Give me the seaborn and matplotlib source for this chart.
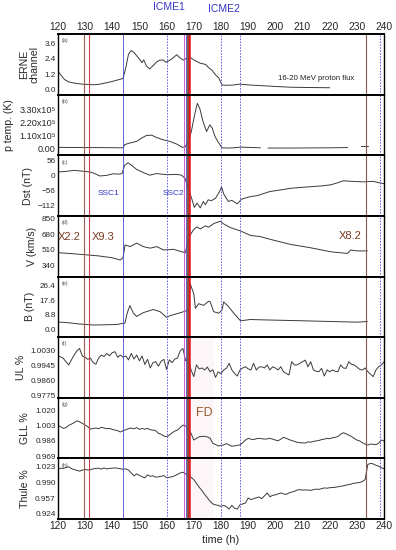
import numpy as np
import pandas as pd
import seaborn as sns
import matplotlib.pyplot as plt
import matplotlib.transforms as mtransforms

# ---- data ----
# (a) ERNE 16-20 MeV proton flux channel
erne_hour = [120, 121, 122.5, 124, 126, 129, 133, 135, 138, 140,
             143, 144, 145, 146, 147, 148, 149.5, 151, 151.6, 152.6,
             153.8, 155, 156.5, 157.5, 158.7, 159.7, 161, 162.4, 163.7, 165,
             166.1, 167.4, 168.6, 170, 172.3, 174.3, 175.5, 176.7, 177.9, 179.2,
             180.4, 182, 184.5, 187, 190, 193.4, 200, 205.6, 212, 220]
erne_val = [1.43, 1.16, 0.77, 0.6, 0.5, 0.42, 0.37, 0.4, 0.53, 0.63,
            0.8, 0.86, 1.7, 2.75, 3.02, 2.88, 2.49, 2.09, 2.3, 1.83,
            1.6, 1.85, 2.17, 2.28, 2.3, 2.12, 2.25, 2.45, 2.7, 2.45,
            2.28, 2.43, 2.5, 2.3, 2.05, 1.95, 1.69, 1.5, 1.16, 0.9,
            0.35, 0.33, 0.35, 0.42, 0.36, 0.32, 0.24, 0.18, 0.16, 0.14]

# (b) proton temperature, units of 1e5 K, three pieces (gaps in the data)
ptemp_hour1 = [120, 125, 130, 135, 140, 144, 144.6, 146, 149, 150.8,
               152.6, 154.5, 156.3, 158.7, 161.2, 163.7, 165.9, 166.8, 168, 169.1,
               170.3, 171.3, 172.2, 173.4, 174.7, 175.9, 176.8, 177.8, 178.8, 180.4,
               182.3, 184.7, 187.2, 190.8, 194.5]
ptemp_val1 = [0.06, 0.05, 0.04, 0.04, 0.03, 0.02, 0.29, 0.4, 0.57, 0.85,
              1.07, 1.1, 0.9, 0.71, 0.57, 0.34, 0.06, 0.1, 0.57, 1.41,
              2.83, 3.81, 3.38, 2.26, 1.41, 1.98, 1.69, 0.99, 0.57, 0.02,
              0.0, 0.02, 0.08, 0.05, 0.02]
ptemp_hour2 = [197.3, 205, 212, 220, 226.6]
ptemp_val2 = [0.0, 0.0, 0.01, 0.02, 0.04]
ptemp_hour3 = [231.5, 234]
ptemp_val3 = [0.2, 0.2]

# (c) Dst index (nT)
dst_hour = [120, 123, 126, 129, 131.8, 133.6, 135.4, 137.9, 140.3, 142.8,
            143.6, 144.6, 145.8, 147.1, 148.9, 151.4, 153.8, 156.3, 158.7, 161.2,
            163.7, 165.5, 166.8, 168, 169.2, 170.2, 171.2, 172.4, 173.5, 174.3,
            175.3, 176.5, 178, 179.5, 180.2, 181, 182.7, 184, 186, 187.5,
            189, 190.8, 193.4, 198, 202, 205.6, 209, 213, 217, 220.4,
            223, 225, 228, 232.5, 236, 238, 240]
dst_val = [12, 14, 18, 15, 12, 6, -3, -1, 5, 4,
           6, 37, 46, 37, 22, 10, 0, 6, 3, 2,
           3, 0, -12, -49, -86, -120, -104, -122, -98, -110,
           -92, -95, -86, -61, -43, -70, -98, -94, -107, -90,
           -85, -80, -76, -61, -55, -49, -46, -43, -40, -36,
           -28, -21, -23, -25, -23, -28, -32]

# (d) solar wind speed (km/s)
v_hour = [120, 125, 130, 135, 140, 143, 144, 144.7, 146.6, 149,
          151.4, 154, 156.4, 158.9, 162.6, 165, 166.9, 168, 169, 170,
          171.2, 172.4, 174.3, 175.5, 177.4, 179.8, 181, 183.5, 187.2, 190.8,
          194.5, 198.2, 205.6, 213, 220.4, 226.5, 227.7, 230, 233.9]
v_val = [481, 470, 458, 445, 425, 400, 428, 565, 547, 585,
         547, 530, 547, 510, 517, 495, 480, 620, 690, 735,
         763, 740, 774, 760, 800, 825, 795, 755, 718, 670,
         656, 626, 571, 534, 490, 472, 510, 500, 500]

# (e) IMF magnitude (nT)
b_hour = [120, 123, 128, 133, 136.8, 141.7, 144.7, 145.5, 146.5, 147.8,
          149, 151.4, 155.1, 157.6, 160, 161.3, 163.8, 166.3, 168.1, 168.7,
          170, 170.6, 171.8, 173.6, 175.5, 176.1, 177.3, 179.2, 180.4, 181,
          182.9, 184.7, 187.2, 189, 190.8, 195, 205.6, 220.4, 230.2, 233.9]
b_val = [4.5, 4.2, 3.3, 2.7, 2.8, 3.0, 3.9, 9.8, 14.4, 9.8,
         7.8, 10.1, 12.0, 10.7, 7.3, 8.3, 9.5, 10.7, 11.7, 27.4,
         21.4, 12.7, 15.5, 14.5, 17.0, 16.5, 10.7, 9.8, 11.7, 16.6,
         13.5, 9.8, 5.2, 5.6, 6.0, 5.8, 5.4, 4.8, 4.4, 4.8]

# hourly neutron monitor data, hours 120..240
nm_hour = list(range(120, 241))
ul_val = [0.9997, 0.9992, 0.9984, 0.9965, 0.9947, 0.9975, 1.0002, 1.0025, 1.0039, 0.9997,
          0.9990, 0.9978, 0.9985, 0.9960, 0.9951, 0.9985, 1.0002, 0.9994, 1.0011, 0.9998,
          1.0015, 1.0021, 0.9990, 1.0002, 0.9990, 0.9997, 0.9975, 1.0011, 0.9980, 1.0002,
          0.9970, 0.9997, 0.9950, 0.9978, 0.9930, 0.9960, 0.9965, 0.9940, 0.9968, 0.9978,
          0.9922, 0.9975, 0.9960, 0.9980, 0.9985, 1.0025, 1.0039, 0.9970, 0.9980, 0.9919,
          0.9882, 0.9947, 0.9925, 0.9930, 0.9919, 0.9935, 0.9909, 0.9920, 0.9878, 0.9909,
          0.9897, 0.9920, 0.9928, 0.9956, 0.9919, 0.9900, 0.9885, 0.9919, 0.9930, 0.9937,
          0.9925, 0.9919, 0.9956, 0.9919, 0.9935, 0.9937, 0.9930, 0.9947, 0.9919, 0.9937,
          0.9930, 0.9919, 0.9937, 0.9909, 0.9900, 0.9891, 0.9965, 0.9947, 0.9947, 0.9956,
          0.9965, 0.9974, 0.9937, 0.9965, 0.9919, 0.9912, 0.9909, 0.9928, 0.9885, 0.9919,
          0.9909, 0.9919, 0.9912, 0.9909, 0.9947, 0.9930, 0.9928, 0.9965, 0.9950, 0.9947,
          0.9935, 0.9922, 0.9919, 0.9930, 0.9910, 0.9895, 0.9882, 0.9919, 0.9937, 0.9947,
          0.9965]
gll_val = [1.0038, 1.0020, 1.0001, 1.0010, 1.0035, 1.0049, 1.0065, 1.0086, 1.0075, 1.0057,
           1.0040, 1.0020, 0.9993, 1.0000, 1.0005, 0.9998, 1.0012, 1.0005, 0.9998, 1.0000,
           0.9990, 0.9982, 0.9975, 0.9960, 0.9975, 0.9985, 0.9998, 1.0005, 0.9995, 1.0010,
           0.9990, 1.0000, 0.9992, 1.0001, 0.9985, 0.9982, 0.9975, 0.9945, 0.9935, 0.9915,
           0.9907, 0.9925, 0.9950, 0.9970, 0.9982, 1.0010, 1.0038, 1.0030, 0.9985, 0.9945,
           0.9870, 0.9889, 0.9907, 0.9910, 0.9912, 0.9905, 0.9890, 0.9833, 0.9820, 0.9803,
           0.9810, 0.9814, 0.9830, 0.9815, 0.9800, 0.9805, 0.9810, 0.9815, 0.9840, 0.9870,
           0.9889, 0.9880, 0.9875, 0.9885, 0.9889, 0.9885, 0.9880, 0.9883, 0.9889, 0.9880,
           0.9870, 0.9862, 0.9880, 0.9900, 0.9890, 0.9875, 0.9865, 0.9855, 0.9845, 0.9840,
           0.9838, 0.9836, 0.9850, 0.9845, 0.9855, 0.9860, 0.9865, 0.9875, 0.9880, 0.9889,
           0.9885, 0.9895, 0.9900, 0.9910, 0.9935, 0.9952, 0.9940, 0.9925, 0.9910, 0.9889,
           0.9870, 0.9860, 0.9840, 0.9825, 0.9814, 0.9825, 0.9822, 0.9818, 0.9835, 0.9870,
           0.9860]
thule_val = [1.0173, 1.0200, 1.0195, 1.0215, 1.0230, 1.0190, 1.0170, 1.0155, 1.0137, 1.0160,
             1.0175, 1.0160, 1.0170, 1.0185, 1.0195, 1.0200, 1.0180, 1.0205, 1.0185, 1.0195,
             1.0200, 1.0205, 1.0200, 1.0185, 1.0180, 1.0185, 1.0160, 1.0100, 1.0040, 1.0080,
             1.0050, 1.0020, 0.9997, 1.0060, 1.0030, 1.0040, 1.0010, 1.0020, 1.0030, 1.0045,
             1.0000, 1.0010, 1.0020, 1.0040, 1.0070, 1.0100, 1.0116, 1.0080, 1.0040, 1.0010,
             0.9960, 0.9880, 0.9800, 0.9730, 0.9650, 0.9580, 0.9502, 0.9450, 0.9430, 0.9420,
             0.9397, 0.9420, 0.9390, 0.9342, 0.9420, 0.9360, 0.9342, 0.9433, 0.9450, 0.9469,
             0.9574, 0.9540, 0.9560, 0.9580, 0.9596, 0.9560, 0.9620, 0.9680, 0.9600, 0.9630,
             0.9640, 0.9660, 0.9680, 0.9660, 0.9650, 0.9680, 0.9700, 0.9714, 0.9740, 0.9750,
             0.9740, 0.9745, 0.9740, 0.9735, 0.9750, 0.9760, 0.9755, 0.9770, 0.9786, 0.9780,
             0.9790, 0.9795, 0.9799, 0.9810, 0.9820, 0.9830, 0.9845, 0.9856, 0.9870, 0.9885,
             0.9892, 0.9900, 0.9920, 0.9960, 1.0279, 1.0300, 1.0290, 1.0260, 1.0243, 1.0210,
             1.0188]

# event times (h)
flare_times = [129.7, 131.5, 233.5]
flare_names = ["X2.2", "X9.3", "X8.2"]
ssc_times = [144.0, 167.0]
icme_times = [160.0, 180.0, 187.0, 238.5]

# ---- figure ----
sns.set_style("white")
plt.rcParams['font.family'] = ['Liberation Sans', 'DejaVu Sans']

fig, axes = plt.subplots(8, 1, sharex=True, figsize=(3.96, 5.5), dpi=100)
fig.subplots_adjust(left=0.146, right=0.97, top=0.938, bottom=0.0564, hspace=0)

line_kw = dict(color='#3a3a3a', linewidth=0.7)

sns.lineplot(x=erne_hour, y=erne_val, ax=axes[0], **line_kw)
sns.lineplot(x=ptemp_hour1, y=ptemp_val1, ax=axes[1], **line_kw)
sns.lineplot(x=ptemp_hour2, y=ptemp_val2, ax=axes[1], **line_kw)
sns.lineplot(x=ptemp_hour3, y=ptemp_val3, ax=axes[1], **line_kw)
sns.lineplot(x=dst_hour, y=dst_val, ax=axes[2], **line_kw)
sns.lineplot(x=v_hour, y=v_val, ax=axes[3], **line_kw)
sns.lineplot(x=b_hour, y=b_val, ax=axes[4], **line_kw)
sns.lineplot(x=nm_hour, y=ul_val, ax=axes[5], **line_kw)
sns.lineplot(x=nm_hour, y=gll_val, ax=axes[6], **line_kw)
sns.lineplot(x=nm_hour, y=thule_val, ax=axes[7], **line_kw)

ylabels = ["ERNE\nchannel", "p temp. (K)", "Dst (nT)", "V (km/s)",
           "B (nT)", "UL %", "GLL %", "Thule %"]
yticks = [[0.0, 1.2, 2.4, 3.6],
          [0.0, 1.1, 2.2, 3.3],
          [-112, -56, 0, 56],
          [340, 510, 680, 850],
          [0.0, 8.8, 17.6, 26.4],
          [0.9775, 0.9860, 0.9945, 1.0030],
          [0.969, 0.986, 1.003, 1.020],
          [0.924, 0.957, 0.990, 1.023]]
yticklabels = [["0.0", "1.2", "2.4", "3.6"],
               ["0.00", "1.10x10\u2075", "2.20x10\u2075", "3.30x10\u2075"],
               ["\u2212112", "\u221256", "0", "56"],
               ["340", "510", "680", "850"],
               ["0.0", "8.8", "17.6", "26.4"],
               ["0.9775", "0.9860", "0.9945", "1.0030"],
               ["0.969", "0.986", "1.003", "1.020"],
               ["0.924", "0.957", "0.990", "1.023"]]
ylims = [(-0.4, 4.3), (-0.62, 4.55), (-152, 74), (219, 883),
         (-4.6, 31.8), (0.9764, 1.0102), (0.9664, 1.0345), (0.9134, 1.0406)]
letters = "abcdefgh"

for i, ax in enumerate(axes):
    ax.set_xlim(120, 240)
    ax.set_ylim(*ylims[i])
    ax.set_yticks(yticks[i])
    ax.set_yticklabels(yticklabels[i])
    ax.set_ylabel(ylabels[i], fontsize=7.6, labelpad=3.5, linespacing=1.0)
    ax.tick_params(axis='both', length=0, pad=1.5)
    ax.tick_params(axis='y', labelsize=6.6 if i == 1 else 5.9)
    for s in ['left', 'right']:
        ax.spines[s].set_linewidth(1.0)
        ax.spines[s].set_color('black')
    for s in ['top', 'bottom']:
        ax.spines[s].set_linewidth(1.4)
        ax.spines[s].set_color('black')
    ax.text(0.012, 0.93, f"({letters[i]})", transform=ax.transAxes,
            fontsize=3.8, color='#444444', va='top')

    # event lines
    ax.axvline(flare_times[0], color='#a0604a', lw=0.8)
    ax.axvline(flare_times[1], color='#d0404a', lw=0.8)
    ax.axvline(flare_times[2], color='#8b5a4a', lw=0.8)
    for t in ssc_times:
        ax.axvline(t, color='#4a4ad0', lw=0.6)
    ax.axvline(166.5, color='#d040d0', lw=0.6)
    for t in icme_times:
        ax.axvline(t, color='#6464e6', lw=0.7, linestyle=(0, (1.6, 1.4)))
    ax.axvline(168.35, color='#ee1122', lw=1.8)
    ax.axvline(167.75, color='#8b4a2a', lw=1.3)
    if i >= 5:
        ax.axvspan(168.7, 177.5, color='#fcecf2', alpha=0.45, lw=0, zorder=0)

xt = list(range(120, 250, 10))
for ax in axes:
    ax.set_xticks(xt)
top = axes[0]
top.xaxis.tick_top()
top.tick_params(axis='x', labeltop=True, labelbottom=False, labelsize=7.4, length=0, pad=1.5)
for ax in axes[1:-1]:
    ax.tick_params(axis='x', labelbottom=False)
axes[-1].tick_params(axis='x', labelbottom=True, labelsize=7.4)
axes[-1].set_xlabel("time (h)", fontsize=7.8, labelpad=2.5)

# annotations
blue = '#3535c8'
trans0 = mtransforms.blended_transform_factory(top.transData, top.transAxes)
top.text(161, 1.44, "ICME1", transform=trans0, ha='center', va='center',
         color=blue, fontsize=7.5)
top.text(181, 1.42, "ICME2", transform=trans0, ha='center', va='center',
         color=blue, fontsize=7.5)
top.text(215, 0.27, "16-20 MeV proton flux", ha='center', va='center',
         transform=trans0, fontsize=5.6, color='#222222')

trans2 = mtransforms.blended_transform_factory(axes[2].transData, axes[2].transAxes)
axes[2].text(138.8, 0.37, "SSC1", transform=trans2, ha='center', va='center',
             color=blue, fontsize=6)
axes[2].text(162.4, 0.37, "SSC2", transform=trans2, ha='center', va='center',
             color=blue, fontsize=6)

brown = '#7a3a1e'
trans3 = mtransforms.blended_transform_factory(axes[3].transData, axes[3].transAxes)
axes[3].text(124.2, 0.66, flare_names[0], transform=trans3, ha='center', va='center',
             color=brown, fontsize=8)
axes[3].text(136.8, 0.66, flare_names[1], transform=trans3, ha='center', va='center',
             color=brown, fontsize=8)
axes[3].text(227.7, 0.67, flare_names[2], transform=trans3, ha='center', va='center',
             color=brown, fontsize=8)

trans6 = mtransforms.blended_transform_factory(axes[6].transData, axes[6].transAxes)
axes[6].text(173.7, 0.75, "FD", transform=trans6, ha='center', va='center',
             color='#9a5a2a', fontsize=9)

fig.savefig("out.png", dpi=100)
